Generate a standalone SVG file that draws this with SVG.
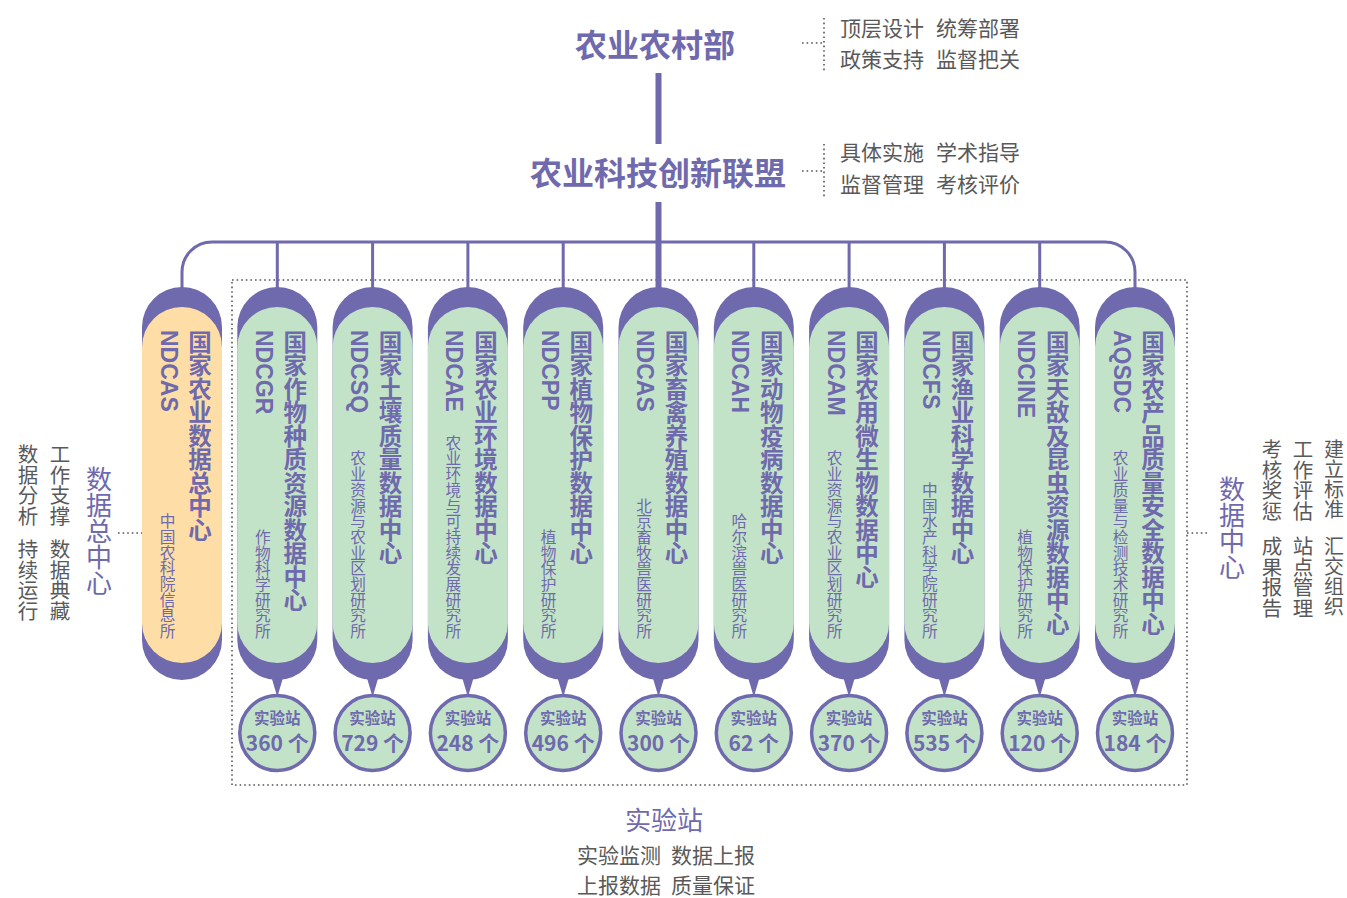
<svg xmlns="http://www.w3.org/2000/svg" xmlns:xlink="http://www.w3.org/1999/xlink" width="1347" height="898" viewBox="0 0 1347 898">
<style>
text{font-family:"Noto Sans CJK SC","Noto Sans",sans-serif}
.pu{fill:#6f69ad}
.gr{fill:#c3e3c8}
.or{fill:#fedea6}
.gt{fill:#595959}
.v{writing-mode:vertical-rl}
.title{font-size:23.5px;font-weight:700;fill:#6f69ad}
.code{font-family:"Liberation Sans","Noto Sans CJK SC",sans-serif;font-size:23px;font-weight:700;fill:#6f69ad}
.sub{font-size:15.7px;fill:#6f69ad;text-anchor:end}
.st1{font-size:15.5px;font-weight:700;fill:#6f69ad;text-anchor:middle}
.st2{font-size:21px;font-weight:700;fill:#6f69ad;text-anchor:middle}
.ring{fill:#c3e3c8;stroke:#6f69ad;stroke-width:3.5}
.line{fill:none;stroke:#6f69ad;stroke-width:3}
.dot{fill:none;stroke:#555;stroke-width:1.6;stroke-dasharray:1.6 3}
.side{font-size:20.5px;fill:#595959}
.lab{font-size:26px;fill:#6f69ad}
.desc{font-size:21px;fill:#595959}
</style>
<defs>
<path id="shell" d="M-40,327 A40,40 0 0 1 40,327 V640 A40,40 0 0 1 -40,640 Z"/>
<path id="inner" d="M-40,347 A40,40 0 0 1 40,347 V623 A40,40 0 0 1 -40,623 Z"/>
<path id="tip" d="M-8,670 L8,670 L0,697 Z"/>
</defs>

<g id="frame">
<rect x="232" y="280" width="955" height="505" class="dot"/>
</g>

<g id="connectors">
<path class="line" d="M182,288 V272 A30,30 0 0 1 212,242 H1105 A30,30 0 0 1 1135,272 V288"/>
<path class="line" d="M277.3,242 V288 M372.6,242 V288 M467.9,242 V288 M563.2,242 V288 M753.8,242 V288 M849.1,242 V288 M944.4,242 V288 M1039.7,242 V288"/>
<path fill="none" stroke="#6f69ad" stroke-width="6" d="M658.5,73 V144 M658.5,202 V288"/>
<path class="dot" d="M802,43 H824 M824,18 V71 M802,171 H824 M824,144 V198"/>
<path class="dot" d="M118,533 H142 M1187,533 H1210"/>
</g>

<g id="ministry">
<text x="655" y="57" text-anchor="middle" style="font-size:32px;font-weight:700;fill:#6f69ad">农业农村部</text>
<text class="desc" x="840" y="36">顶层设计<tspan x="936">统筹部署</tspan></text>
<text class="desc" x="840" y="67">政策支持<tspan x="936">监督把关</tspan></text>
</g>

<g id="alliance">
<text x="658" y="185" text-anchor="middle" style="font-size:32px;font-weight:700;fill:#6f69ad">农业科技创新联盟</text>
<text class="desc" x="840" y="160">具体实施<tspan x="936">学术指导</tspan></text>
<text class="desc" x="840" y="192">监督管理<tspan x="936">考核评价</tspan></text>
</g>

<g id="hub-note">
<text class="lab v" x="99" y="466">数据总中心</text>
<text class="side v" x="60" y="444">工作支撑</text>
<text class="side v" x="60" y="539">数据典藏</text>
<text class="side v" x="28" y="444">数据分析</text>
<text class="side v" x="28" y="539">持续运行</text>
</g>

<g id="center-note">
<text class="lab v" x="1232" y="476">数据中心</text>
<text class="side v" x="1334" y="439" style="font-size:20px">建立标准</text>
<text class="side v" x="1334" y="536" style="font-size:20px">汇交组织</text>
<text class="side v" x="1303" y="439">工作评估</text>
<text class="side v" x="1303" y="536">站点管理</text>
<text class="side v" x="1272" y="439">考核奖惩</text>
<text class="side v" x="1272" y="536">成果报告</text>
</g>

<g id="station-note">
<text x="664" y="830" text-anchor="middle" style="font-size:26px;fill:#6f69ad">实验站</text>
<text class="desc" x="577" y="863">实验监测<tspan x="671">数据上报</tspan></text>
<text class="desc" x="577" y="893">上报数据<tspan x="671">质量保证</tspan></text>
</g>

<g id="n1" transform="translate(182,0)">
<use href="#shell" class="pu"/><use href="#inner" class="or"/>
<text class="title v" x="18" y="330">国家农业数据总中心</text>
<text class="code v" x="-13.5" y="330">NDCAS</text>
<text class="sub v" x="-14.5" y="639">中国农科院信息所</text>
</g>

<g id="n2" transform="translate(277.3,0)">
<use href="#shell" class="pu"/><use href="#inner" class="gr"/><use href="#tip" class="pu"/>
<text class="title v" x="18" y="330">国家作物种质资源数据中心</text>
<text class="code v" x="-13.5" y="330">NDCGR</text>
<text class="sub v" x="-14.5" y="639">作物科学研究所</text>
<circle class="ring" cx="0" cy="733" r="37.5"/>
<text class="st1" x="0" y="724">实验站</text><text class="st2" x="0" y="751">360 个</text>
</g>

<g id="n3" transform="translate(372.6,0)">
<use href="#shell" class="pu"/><use href="#inner" class="gr"/><use href="#tip" class="pu"/>
<text class="title v" x="18" y="330">国家土壤质量数据中心</text>
<text class="code v" x="-13.5" y="330">NDCSQ</text>
<text class="sub v" x="-14.5" y="639">农业资源与农业区划研究所</text>
<circle class="ring" cx="0" cy="733" r="37.5"/>
<text class="st1" x="0" y="724">实验站</text><text class="st2" x="0" y="751">729 个</text>
</g>

<g id="n4" transform="translate(467.9,0)">
<use href="#shell" class="pu"/><use href="#inner" class="gr"/><use href="#tip" class="pu"/>
<text class="title v" x="18" y="330">国家农业环境数据中心</text>
<text class="code v" x="-13.5" y="330">NDCAE</text>
<text class="sub v" x="-14.5" y="639">农业环境与可持续发展研究所</text>
<circle class="ring" cx="0" cy="733" r="37.5"/>
<text class="st1" x="0" y="724">实验站</text><text class="st2" x="0" y="751">248 个</text>
</g>

<g id="n5" transform="translate(563.2,0)">
<use href="#shell" class="pu"/><use href="#inner" class="gr"/><use href="#tip" class="pu"/>
<text class="title v" x="18" y="330">国家植物保护数据中心</text>
<text class="code v" x="-13.5" y="330">NDCPP</text>
<text class="sub v" x="-14.5" y="639">植物保护研究所</text>
<circle class="ring" cx="0" cy="733" r="37.5"/>
<text class="st1" x="0" y="724">实验站</text><text class="st2" x="0" y="751">496 个</text>
</g>

<g id="n6" transform="translate(658.5,0)">
<use href="#shell" class="pu"/><use href="#inner" class="gr"/><use href="#tip" class="pu"/>
<text class="title v" x="18" y="330">国家畜禽养殖数据中心</text>
<text class="code v" x="-13.5" y="330">NDCAS</text>
<text class="sub v" x="-14.5" y="639">北京畜牧兽医研究所</text>
<circle class="ring" cx="0" cy="733" r="37.5"/>
<text class="st1" x="0" y="724">实验站</text><text class="st2" x="0" y="751">300 个</text>
</g>

<g id="n7" transform="translate(753.8,0)">
<use href="#shell" class="pu"/><use href="#inner" class="gr"/><use href="#tip" class="pu"/>
<text class="title v" x="18" y="330">国家动物疫病数据中心</text>
<text class="code v" x="-13.5" y="330">NDCAH</text>
<text class="sub v" x="-14.5" y="639">哈尔滨兽医研究所</text>
<circle class="ring" cx="0" cy="733" r="37.5"/>
<text class="st1" x="0" y="724">实验站</text><text class="st2" x="0" y="751">62 个</text>
</g>

<g id="n8" transform="translate(849.1,0)">
<use href="#shell" class="pu"/><use href="#inner" class="gr"/><use href="#tip" class="pu"/>
<text class="title v" x="18" y="330">国家农用微生物数据中心</text>
<text class="code v" x="-13.5" y="330">NDCAM</text>
<text class="sub v" x="-14.5" y="639">农业资源与农业区划研究所</text>
<circle class="ring" cx="0" cy="733" r="37.5"/>
<text class="st1" x="0" y="724">实验站</text><text class="st2" x="0" y="751">370 个</text>
</g>

<g id="n9" transform="translate(944.4,0)">
<use href="#shell" class="pu"/><use href="#inner" class="gr"/><use href="#tip" class="pu"/>
<text class="title v" x="18" y="330">国家渔业科学数据中心</text>
<text class="code v" x="-13.5" y="330">NDCFS</text>
<text class="sub v" x="-14.5" y="639">中国水产科学院研究所</text>
<circle class="ring" cx="0" cy="733" r="37.5"/>
<text class="st1" x="0" y="724">实验站</text><text class="st2" x="0" y="751">535 个</text>
</g>

<g id="n10" transform="translate(1039.7,0)">
<use href="#shell" class="pu"/><use href="#inner" class="gr"/><use href="#tip" class="pu"/>
<text class="title v" x="18" y="330">国家天敌及昆虫资源数据中心</text>
<text class="code v" x="-13.5" y="330">NDCINE</text>
<text class="sub v" x="-14.5" y="639">植物保护研究所</text>
<circle class="ring" cx="0" cy="733" r="37.5"/>
<text class="st1" x="0" y="724">实验站</text><text class="st2" x="0" y="751">120 个</text>
</g>

<g id="n11" transform="translate(1135,0)">
<use href="#shell" class="pu"/><use href="#inner" class="gr"/><use href="#tip" class="pu"/>
<text class="title v" x="18" y="330">国家农产品质量安全数据中心</text>
<text class="code v" x="-13.5" y="330">AQSDC</text>
<text class="sub v" x="-14.5" y="639">农业质量与检测技术研究所</text>
<circle class="ring" cx="0" cy="733" r="37.5"/>
<text class="st1" x="0" y="724">实验站</text><text class="st2" x="0" y="751">184 个</text>
</g>
</svg>
